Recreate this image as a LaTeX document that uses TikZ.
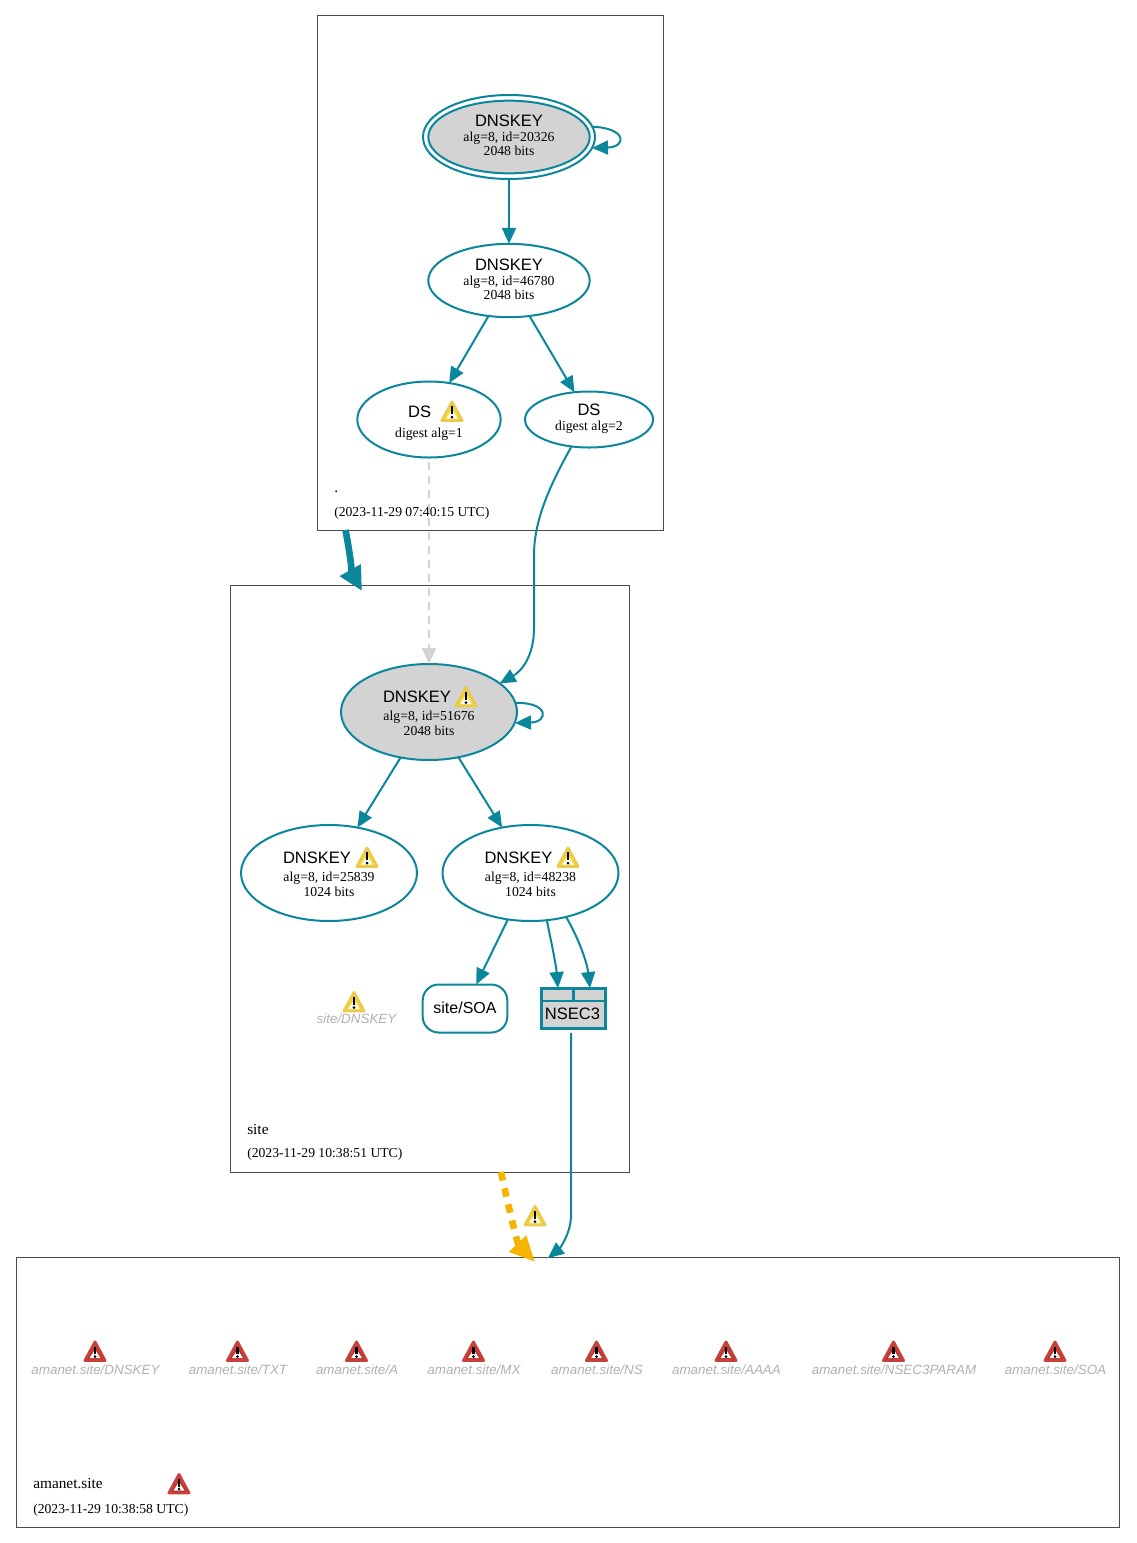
\documentclass[tikz,border=0pt]{standalone}
\usepackage{fontspec}
\setmainfont{Liberation Serif}
\setsansfont{Liberation Sans}
\usepackage{tikz}
\usetikzlibrary{shapes.geometric, arrows.meta}

\definecolor{tealline}{HTML}{0A879A}
\definecolor{keygrey}{HTML}{D3D3D3}
\definecolor{delegamber}{HTML}{F4B400}
\definecolor{labelgrey}{HTML}{B0B0B0}
\definecolor{warnedge}{HTML}{EBCB4B}
\definecolor{warnfill}{HTML}{F6DC3C}
\definecolor{erredge}{HTML}{C8403A}
\definecolor{errfill}{HTML}{B02826}

% the title line of every node is a bigger sans font
\newcommand{\titletext}[1]{{\sffamily\fontsize{12.4}{10.5}\selectfont #1}}
% this one moves the title left, to leave room for the warning icon
\newcommand{\titlewarn}[2]{\rule{0pt}{10.5pt}\makebox[0pt]{\hspace{#1}\titletext{#2}}}

\tikzset{
    keynode/.style={ellipse, draw=tealline, line width=1.5pt, inner sep=0pt, outer sep=0pt, align=center,
        font=\fontsize{10.3}{10.5}\selectfont},
    % the text of these nodes sits a little higher
    lifted/.style={text depth=2.4pt},
    zonebox/.style={draw=black!70, line width=0.6pt, inner sep=0pt, outer sep=0pt},
    zonetext/.style={anchor=base west, inner sep=0pt, font=\fontsize{10.25}{12}\selectfont},
    zonename/.style={anchor=base west, inner sep=0pt, font=\fontsize{11.5}{12}\selectfont},
    rrname/.style={inner sep=0pt, text=labelgrey, font=\sffamily\itshape\fontsize{10.05}{12}\selectfont},
    signed/.style={draw=tealline, line width=1.5pt, -{Triangle[length=12pt,width=10.5pt]}},
    warnicon/.pic={
        \draw[line width=2.2pt, line join=round, draw=warnedge, fill=warnfill]
            (-10,9.5) -- (0,-9) -- (10,9.5) -- cycle;
        \fill[white] (-5.5,7.5) -- (0,-1.5) -- (5.5,7.5) -- cycle;
        \fill[black] (-1.3,-5) rectangle (1.3,3);
        \fill[black] (0,6) circle (1.5);
    },
    erricon/.pic={
        \draw[line width=2.2pt, line join=round, draw=erredge, top color=erredge, bottom color=errfill]
            (-10,9) -- (0,-9.5) -- (10,9) -- cycle;
        \fill[white] (-5.5,6.5) -- (0,-2) -- (5.5,6.5) -- cycle;
        \fill[black] (-1.3,-5) rectangle (1.3,2.5);
        \fill[black] (0,5.2) circle (1.5);
    },
}

\begin{document}
\begin{tikzpicture}[x=0.75pt, y=-0.75pt]
    \useasboundingbox (0,0) rectangle (1136,1543);

    % the three zones, drawn first so that the edges lie on top
    \node[zonebox, minimum width=259.75pt, minimum height=386.25pt] (rootzone) at (490.6,272.75) {};
    \node[zonebox, minimum width=299.25pt, minimum height=440.25pt] (sitezone) at (430,878.5) {};
    \node[zonebox, minimum width=827.75pt, minimum height=202pt] (amanetzone) at (567.9,1392.25) {};

    \node[zonename] (rootname) at (334,492) {.};
    \node[zonetext] (roottime) at (334,516) {(2023-11-29 07:40:15 UTC)};
    \node[zonename] (sitename) at (247,1134) {site};
    \node[zonetext] (sitetime) at (247,1157) {(2023-11-29 10:38:51 UTC)};
    \node[zonename] (amanetname) at (33,1488) {amanet.site};
    \node[zonetext] (amanettime) at (33,1513) {(2023-11-29 10:38:58 UTC)};

    % the root zone, the outer ellipse carries no text
    \node[keynode, minimum width=129pt, minimum height=63pt] (ksktrust) at (509,137) {};
    \node[keynode, lifted, fill=keygrey, minimum width=121pt, minimum height=54.5pt] (ksk) at (509,137)
        {\titletext{DNSKEY}\\[1pt]alg=8, id=20326\\2048 bits};
    \node[keynode, lifted, minimum width=121pt, minimum height=55pt] (zsk) at (509,280.5)
        {\titletext{DNSKEY}\\[1pt]alg=8, id=46780\\2048 bits};
    \node[keynode, minimum width=107.5pt, minimum height=57pt] (dsone) at (429,419.5)
        {\rule{0pt}{14.2pt}\titlewarn{-14pt}{DS}\\[5pt]digest alg=1};
    \node[keynode, minimum width=96pt, minimum height=42pt] (dstwo) at (589,419.5)
        {\titletext{DS}\\[1pt]digest alg=2\rule[-3.5pt]{0pt}{0pt}};

    % the site zone
    \node[keynode, fill=keygrey, minimum width=132pt, minimum height=72pt] (sitesep) at (429,712)
        {\titlewarn{-18pt}{DNSKEY}\\[3pt]alg=8, id=51676\\[0.5pt]2048 bits};
    \node[keynode, minimum width=132pt, minimum height=72pt] (sitezska) at (329,873)
        {\titlewarn{-18pt}{DNSKEY}\\[3pt]alg=8, id=25839\\[0.5pt]1024 bits};
    \node[keynode, minimum width=132pt, minimum height=72pt] (sitezskb) at (530.5,873)
        {\titlewarn{-18pt}{DNSKEY}\\[3pt]alg=8, id=48238\\[0.5pt]1024 bits};
    \node[rrname] (sitekeyrr) at (356.5,1018.5) {site/DNSKEY};
    \node[draw=tealline, line width=1.5pt, rounded corners=12pt, inner sep=0pt, outer sep=0pt, text depth=1.2pt,
        minimum width=63.5pt, minimum height=36pt, font=\sffamily\fontsize{12}{12}\selectfont] (sitesoa) at (465,1008.5) {site/SOA};

    % NSEC3 is a box with two cells on top
    \node[draw=tealline, fill=keygrey, line width=2pt, inner sep=0pt, outer sep=0pt, minimum width=48pt, minimum height=30pt] (nsec) at (573.5,1008.5) {};
    \node[inner sep=0pt, font=\sffamily\fontsize{12.4}{12}\selectfont] (nsectext) at (572.5,1014) {NSEC3};
    \draw[tealline, line width=2pt] (nsec.west |- 0,1001) coordinate (nsecleft) -- (nsec.east |- 0,1001) coordinate (nsecright);
    \draw[tealline, line width=1.6pt] (nsec.north) -- (nsec.north |- nsecleft);

    % the records of amanet.site, icon above the name
    \foreach \x/\rrlabel [count=\i] in {95.5/DNSKEY, 238/TXT, 357/A, 474/MX, 597/NS, 726.5/AAAA, 894/NSEC3PARAM, 1055.5/SOA} {
        \node[rrname] (rr\i) at (\x,1369.5) {amanet.site/\rrlabel};
        \pic at (\x-0.5,1351.5) {erricon};
    }
    \pic at (179,1484) {erricon};

    % warning icons
    \foreach \x/\y in {452/411, 466/696.5, 367/857, 568/857, 354/1001.5, 535/1215.5} {
        \pic at (\x,\y) {warnicon};
    }

    % free ends of the edges between the zones
    \coordinate (rootout) at (345.5,530);
    \coordinate (sitein) at (362,591);
    \coordinate (siteout) at (501,1172);
    \coordinate (amanetin) at (535,1262);
    \coordinate (nsecfoot) at (571,1033);
    \coordinate (amanetend) at (548,1258);

    % edges
    \draw[signed] (ksk.south |- ksktrust.south) -- (zsk.north);
    \draw[signed] (zsk.-120) -- (dsone.61);
    \draw[signed] (zsk.-60) -- (dstwo.118);
    \draw[signed] (sitesep.-122) -- (sitezska.58);
    \draw[signed] (sitesep.-57) -- (sitezskb.122);
    \draw[signed] (sitezskb.-116) -- (sitesoa.65);
    \draw[signed] (sitezskb.-71) .. controls (552,945) and (556,965) .. (558,988);
    \draw[signed] (sitezskb.-51) .. controls (578,937) and (587,962) .. (590,988);

    % self loops
    \draw[signed] (ksktrust.7) .. controls (627,128) and (627,147) .. (592,148);
    \draw[signed] (sitesep.6.5) .. controls (549,702) and (549,722) .. (515,723);

    \draw[draw=keygrey, line width=1.7pt, dash pattern=on 6pt off 4.5pt, -{Triangle[length=12pt,width=10.5pt]}] (429,462) -- (sitesep.north);
    \draw[signed] (dstwo.-123) .. controls (550,485) and (534,520) .. (534,555) -- (534,628) .. controls (534,658) and (520,672) .. (sitesep.22);
    \draw[signed] (nsecfoot) -- (571,1215) .. controls (571,1235) and (558,1250) .. (amanetend);

    \draw[draw=tealline, line width=5pt, -{Triangle[length=18pt,width=17pt]}] (rootout) .. controls (349,548) and (353,575) .. (sitein);
    \draw[draw=delegamber, line width=5pt, dash pattern=on 6.5pt off 5.9pt, -{Triangle[length=19pt,width=16.5pt]}] (siteout) .. controls (507,1200) and (517,1243) .. (amanetin);
\end{tikzpicture}
\end{document}
